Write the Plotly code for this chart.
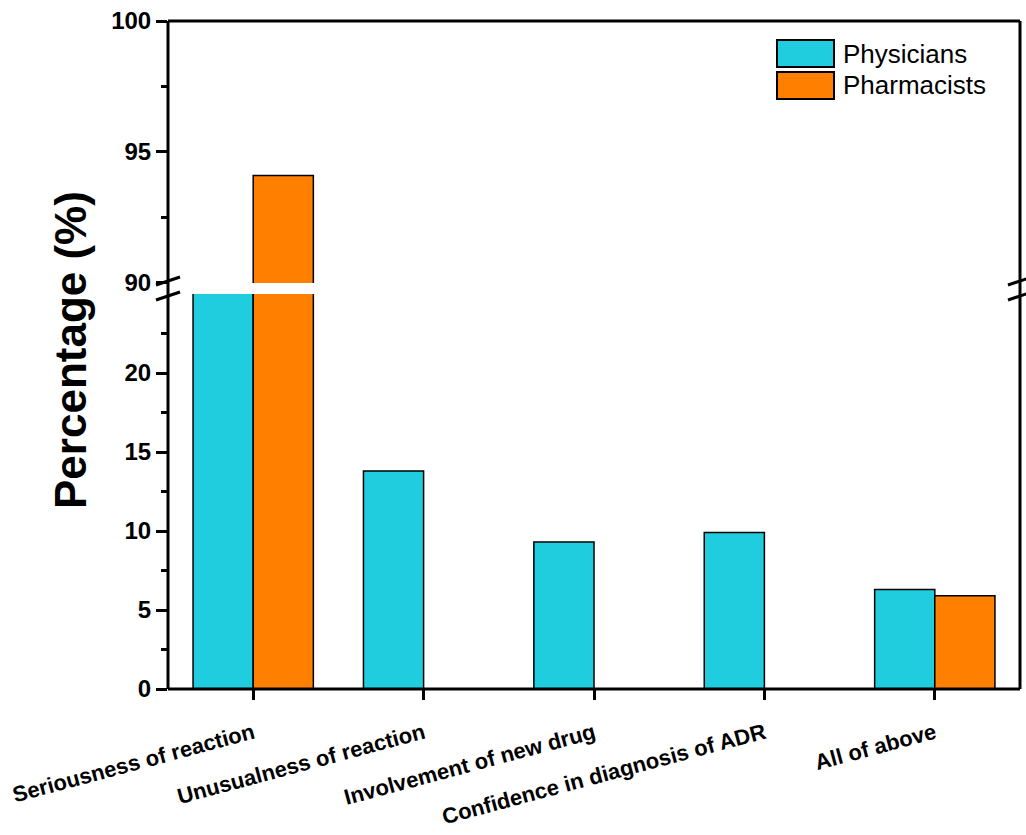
import plotly.graph_objects as go

# Reasons for reporting ADRs, share of respondents (%)
categories = [
    "Seriousness of reaction",
    "Unusualness of reaction",
    "Involvement of new drug",
    "Confidence in diagnosis of ADR",
    "All of above",
]
physicians = [60.7, 13.8, 9.3, 9.9, 6.3]
pharmacists = [94.1, 0.0, 0.0, 0.0, 5.9]

series_names = ["Physicians", "Pharmacists"]
series_colors = ["#20CDDF", "#FF8000"]

FONT = "Arial, Liberation Sans, sans-serif"
W, H = 1026, 835
M_L, M_R, M_T, M_B = 168, 6, 21, 146
PW, PH = W - M_L - M_R, H - M_T - M_B

LOW_DOMAIN = [0, 0.5913]
HIGH_DOMAIN = [0.6078, 1]

fig = go.Figure()
for name, vals, col in zip(series_names, [physicians, pharmacists], series_colors):
    for xa, ya in (("x", "y"), ("x2", "y2")):
        fig.add_trace(go.Bar(
            x=categories, y=vals, name=name, xaxis=xa, yaxis=ya,
            marker=dict(color=col, line=dict(color="black", width=1.5)),
            showlegend=False, hoverinfo="x+y+name",
        ))

tickfont = dict(family=FONT, size=24, color="black", weight="bold")

fig.update_layout(
    width=W, height=H,
    margin=dict(l=M_L, r=M_R, t=M_T, b=M_B),
    paper_bgcolor="white", plot_bgcolor="white",
    barmode="group", bargap=0.294, bargroupgap=0,
    xaxis=dict(
        domain=[0, 1], anchor="y", range=[-0.5, 4.5], automargin=False,
        showline=False, showgrid=False, zeroline=False,
        ticks="outside", ticklen=10, tickwidth=3, tickcolor="black",
        tickangle=-15, ticklabelstandoff=12,
        tickfont=dict(family=FONT, size=22, color="black", weight="bold"),
    ),
    xaxis2=dict(
        domain=[0, 1], anchor="y2", matches="x", range=[-0.5, 4.5],
        automargin=False,
        showline=False, showgrid=False, zeroline=False,
        showticklabels=False, ticks="",
    ),
    yaxis=dict(
        domain=LOW_DOMAIN, anchor="x", range=[0, 25], automargin=False,
        tickvals=[0, 5, 10, 15, 20],
        showline=False, showgrid=False, zeroline=False,
        ticks="outside", ticklen=11, tickwidth=3, tickcolor="black",
        tickfont=tickfont,
        minor=dict(tickvals=[2.5, 7.5, 12.5, 17.5, 22.5], ticks="outside",
                   ticklen=6, tickwidth=3, tickcolor="black", showgrid=False),
    ),
    yaxis2=dict(
        domain=HIGH_DOMAIN, anchor="x2", range=[90, 100], automargin=False,
        tickvals=[90, 95, 100],
        showline=False, showgrid=False, zeroline=False,
        ticks="outside", ticklen=11, tickwidth=3, tickcolor="black",
        tickfont=tickfont,
        minor=dict(tickvals=[92.5, 97.5], ticks="outside",
                   ticklen=6, tickwidth=3, tickcolor="black", showgrid=False),
    ),
)

# Frame around the whole plot area (continuous through the axis break)
frame = dict(type="line", xref="paper", yref="paper",
             line=dict(color="black", width=3), layer="above")
fig.add_shape(**frame, x0=0, x1=0, y0=0, y1=1)
fig.add_shape(**frame, x0=1, x1=1, y0=0, y1=1)
fig.add_shape(**frame, x0=0, x1=1, y0=1, y1=1)
fig.add_shape(**frame, x0=0, x1=1, y0=0, y1=0)

# Break marks on left and right axes
dx = 12 / PW
dy = 4 / PH
for xc in (0, 1):
    for yc_px in (281, 296):
        yc = (M_T + PH - yc_px) / PH
        fig.add_shape(type="line", xref="paper", yref="paper",
                      x0=xc - dx, x1=xc + dx, y0=yc - dy, y1=yc + dy,
                      line=dict(color="black", width=3), layer="above")

# Y-axis title spanning both segments
fig.add_annotation(
    text="Percentage (%)", xref="paper", yref="paper",
    x=(70 - M_L) / PW, y=(M_T + PH - 350) / PH,
    textangle=-90, showarrow=False, xanchor="center", yanchor="middle",
    font=dict(family=FONT, size=44, color="black", weight="bold"),
)

# Legend with large swatches
leg_x0, leg_x1 = 777, 834
for i, (name, col) in enumerate(zip(series_names, series_colors)):
    top = 40 + i * 32
    bot = top + 27
    fig.add_shape(type="rect", xref="paper", yref="paper",
                  x0=(leg_x0 - M_L) / PW, x1=(leg_x1 - M_L) / PW,
                  y0=(M_T + PH - bot) / PH, y1=(M_T + PH - top) / PH,
                  fillcolor=col, line=dict(color="black", width=2), layer="above")
    fig.add_annotation(
        text=name, xref="paper", yref="paper",
        x=(841 - M_L) / PW, y=(M_T + PH - (top + bot) / 2) / PH,
        xanchor="left", yanchor="middle", showarrow=False,
        font=dict(family=FONT, size=26, color="black"),
    )

fig.write_html("out.html")
